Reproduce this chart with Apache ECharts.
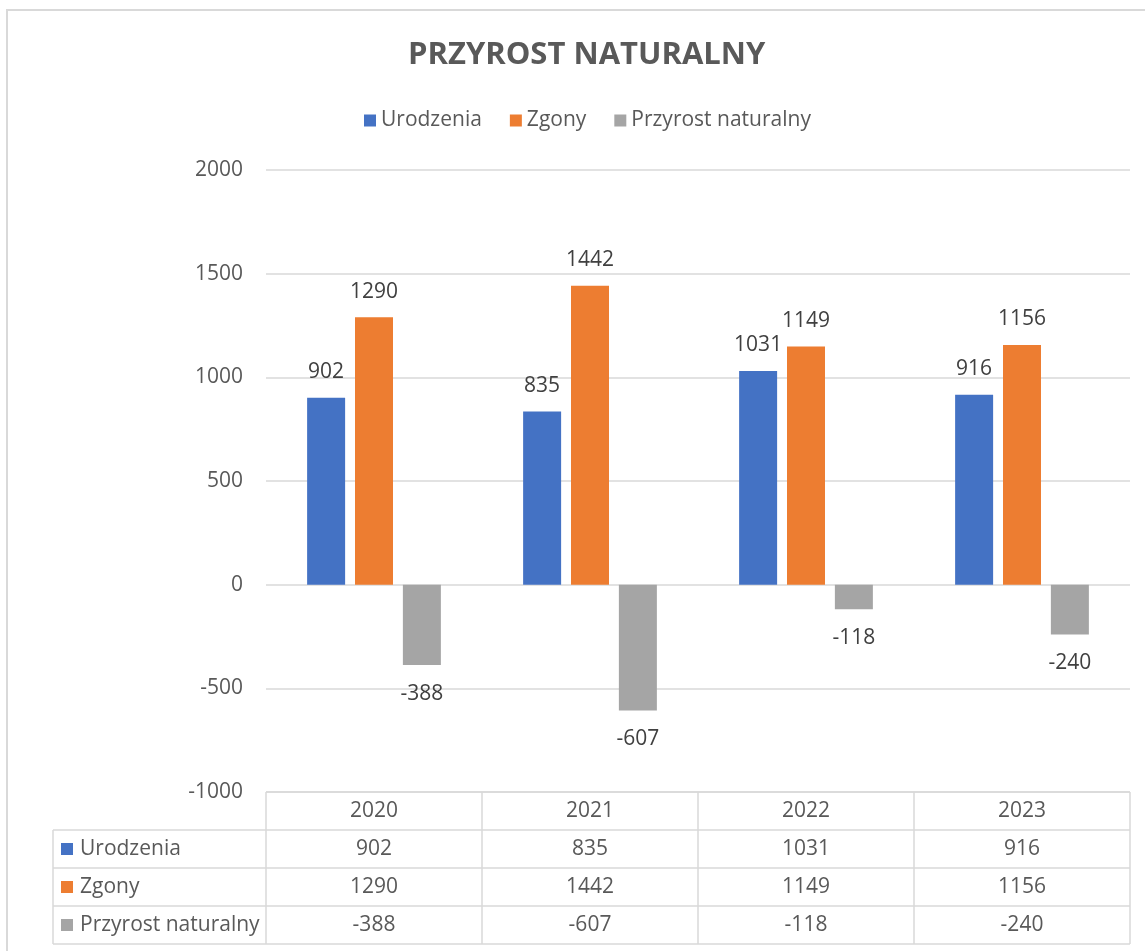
<!DOCTYPE html>
<html>
<head>
<meta charset="utf-8">
<script src="https://cdn.jsdelivr.net/npm/echarts@6/dist/echarts.min.js"></script>
<style>
html,body{margin:0;padding:0;background:#fff;}
#c{width:1145px;height:951px;}
</style>
</head>
<body>
<div id="c"></div>
<script>
const categories = ['2020', '2021', '2022', '2023'];
const urodzenia = [902, 835, 1031, 916];
const zgony = [1290, 1442, 1149, 1156];
const przyrost = [-388, -607, -118, -240];
const seriesNames = ['Urodzenia', 'Zgony', 'Przyrost naturalny'];
const seriesData = [urodzenia, zgony, przyrost];
const colors = ['#4472C4', '#ED7D31', '#A5A5A5'];
const yTicks = [-1000, -500, 0, 500, 1000, 1500, 2000];

const FONT = 'Open Sans';
const chart = echarts.init(document.getElementById('c'));

function mkData(arr) {
  return arr.map(v => ({
    value: v,
    label: { position: v < 0 ? 'bottom' : 'top', distance: v < 0 ? 18 : 15 }
  }));
}

chart.setOption({
  animation: false,
  backgroundColor: '#fff',
  title: {
    text: 'PRZYROST NATURALNY',
    left: 403,
    top: 35,
    textStyle: { fontFamily: FONT, fontSize: 31, fontWeight: 'bold', color: '#595959' }
  },
  legend: {
    top: 105,
    left: 359,
    itemWidth: 12,
    itemHeight: 12,
    itemGap: 28,
    icon: 'rect',
    textStyle: { fontFamily: FONT, fontSize: 21, color: '#595959' },
    data: seriesNames
  },
  grid: { left: 266, right: 15, top: 170, bottom: 159, containLabel: false },
  xAxis: {
    type: 'category',
    data: categories,
    axisLine: { show: false },
    axisTick: { show: false },
    axisLabel: { show: false }
  },
  yAxis: {
    type: 'value',
    min: yTicks[0],
    max: yTicks[yTicks.length - 1],
    interval: 500,
    axisLine: { show: false },
    axisTick: { show: false },
    axisLabel: { fontFamily: FONT, fontSize: 21, color: '#595959', margin: 23, formatter: v => String(v) },
    splitLine: { lineStyle: { color: '#d9d9d9', width: 1.5 } }
  },
  series: seriesData.map((d, i) => ({
    name: seriesNames[i],
    type: 'bar',
    data: mkData(d),
    barWidth: 38,
    barGap: '26%',
    itemStyle: { color: colors[i] },
    label: {
      show: true,
      fontFamily: FONT,
      fontSize: 21,
      color: '#404040'
    }
  }))
});

function drawTable() {
  const band = chart.convertToPixel({ xAxisIndex: 0 }, categories[1]) - chart.convertToPixel({ xAxisIndex: 0 }, categories[0]);
  const centers = categories.map(c => chart.convertToPixel({ xAxisIndex: 0 }, c));
  const xLeft = centers[0] - band / 2;
  const xRight = centers[centers.length - 1] + band / 2;
  const yTop = chart.convertToPixel({ yAxisIndex: 0 }, yTicks[0]);
  const rowH = 38;
  const tableLeft = 53;
  const lineStyle = { stroke: '#d9d9d9', lineWidth: 1.5 };
  const txt = { fontFamily: FONT, fontSize: 21, fill: '#595959' };
  const g = [];
  g.push({ type: 'rect', shape: { x: 7, y: 10, width: 1200, height: 1000 }, style: { fill: null, stroke: '#d9d9d9', lineWidth: 2 }, silent: true });
  const nRows = seriesNames.length;
  const yBottom = yTop + rowH * (nRows + 1);
  g.push({ type: 'line', shape: { x1: xLeft, y1: yTop, x2: xRight, y2: yTop }, style: lineStyle });
  for (let r = 1; r <= nRows + 1; r++) {
    const y = yTop + rowH * r;
    g.push({ type: 'line', shape: { x1: tableLeft, y1: y, x2: xRight, y2: y }, style: lineStyle });
  }
  g.push({ type: 'line', shape: { x1: tableLeft, y1: yTop + rowH, x2: tableLeft, y2: yBottom }, style: lineStyle });
  for (let c = 0; c <= categories.length; c++) {
    const x = xLeft + band * c;
    g.push({ type: 'line', shape: { x1: x, y1: yTop, x2: x, y2: yBottom }, style: lineStyle });
  }
  categories.forEach((cat, c) => {
    g.push({ type: 'text', x: centers[c], y: yTop + rowH / 2, style: Object.assign({ text: cat, align: 'center', verticalAlign: 'middle' }, txt) });
  });
  seriesNames.forEach((name, r) => {
    const yc = yTop + rowH * (r + 1) + rowH / 2;
    g.push({ type: 'rect', shape: { x: 61, y: yc - 6, width: 12, height: 12 }, style: { fill: colors[r] } });
    g.push({ type: 'text', x: 80, y: yc, style: Object.assign({ text: name, align: 'left', verticalAlign: 'middle' }, txt) });
    seriesData[r].forEach((v, c) => {
      g.push({ type: 'text', x: centers[c], y: yc, style: Object.assign({ text: String(v), align: 'center', verticalAlign: 'middle' }, txt) });
    });
  });
  chart.setOption({ graphic: g });
}
drawTable();
</script>
</body>
</html>
